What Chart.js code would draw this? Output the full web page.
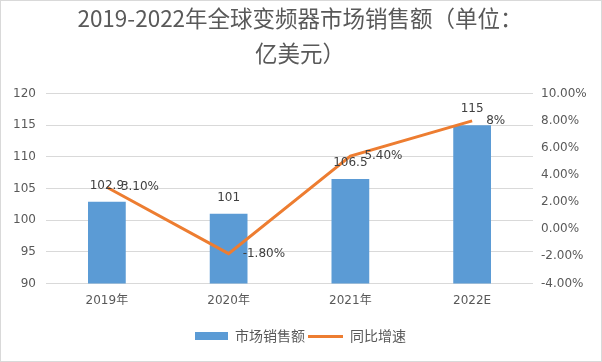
<!DOCTYPE html>
<html>
<head>
<meta charset="utf-8">
<script src="https://cdn.jsdelivr.net/npm/chart.js@4"></script>
<style>
  body { margin: 0; background: #fff; }
  .wrap { width: 600px; height: 360px; border: 1px solid #d9d9d9; }
</style>
</head>
<body>
<div class="wrap"><canvas id="chart" width="600" height="360"></canvas></div>
<script>
const categories = ["2019年", "2020年", "2021年", "2022E"];
const salesValues = [102.9, 101, 106.5, 115];
const growthValues = [3.1, -1.8, 5.4, 8];
const growthLabels = ["3.10%", "-1.80%", "5.40%", "8%"];
const leftTicks = [90, 95, 100, 105, 110, 115, 120];
const rightTicks = [-4, -2, 0, 2, 4, 6, 8, 10];

const BLUE = "#5B9BD5";
const ORANGE = "#ED7D31";
const TEXT = "#595959";
const CJK = "'Noto Sans CJK SC', 'Noto Sans', sans-serif";
const NUM = "'DejaVu Sans', 'Noto Sans CJK SC', sans-serif";

// legend swatches
function swatch(w, h, color) {
  const c = document.createElement("canvas");
  c.width = w; c.height = h;
  const g = c.getContext("2d");
  g.fillStyle = color;
  g.fillRect(0, 0, w, h);
  return c;
}
const barSwatch = swatch(33, 8, BLUE);
const lineSwatch = swatch(35, 3, ORANGE);

// value labels drawn next to the marks
const valueLabels = {
  id: "valueLabels",
  afterDatasetsDraw(chart) {
    const ctx = chart.ctx;
    ctx.save();
    ctx.font = "12px " + NUM;
    ctx.fillStyle = "#404040";
    ctx.textBaseline = "middle";
    chart.getDatasetMeta(1).data.forEach((bar, i) => {
      ctx.textAlign = "center";
      ctx.fillText(String(salesValues[i]), bar.x, bar.y - 16);
    });
    chart.getDatasetMeta(0).data.forEach((pt, i) => {
      ctx.textAlign = "left";
      ctx.fillText(growthLabels[i], pt.x + 14, pt.y);
    });
    ctx.restore();
  }
};

new Chart(document.getElementById("chart"), {
  data: {
    labels: categories,
    datasets: [
      {
        type: "line",
        label: "同比增速",
        data: growthValues,
        yAxisID: "y1",
        borderColor: ORANGE,
        backgroundColor: ORANGE,
        borderWidth: 3,
        pointRadius: 0,
        tension: 0,
        order: 0
      },
      {
        type: "bar",
        label: "市场销售额",
        data: salesValues,
        yAxisID: "y",
        backgroundColor: BLUE,
        categoryPercentage: 1,
        barPercentage: 0.31,
        order: 1
      }
    ]
  },
  options: {
    responsive: false,
    animation: false,
    layout: { padding: { left: 6, right: 8, top: 0, bottom: 8 } },
    plugins: {
      title: {
        display: true,
        text: ["2019-2022年全球变频器市场销售额（单位：", "亿美元）"],
        color: TEXT,
        font: { family: CJK, size: 22.5, weight: "normal", lineHeight: 1.55 },
        padding: { top: 0, bottom: 23 }
      },
      legend: {
        position: "bottom",
        title: { display: true, text: "", font: { size: 1 }, padding: { top: 14, bottom: 0 } },
        labels: {
          color: TEXT,
          font: { family: CJK, size: 14 },
          usePointStyle: true,
          pointStyleWidth: 34,
          boxHeight: 8,
          padding: 4,
          generateLabels(chart) {
            return [
              { text: "市场销售额", pointStyle: barSwatch, fontColor: TEXT, datasetIndex: 1, lineWidth: 0, strokeStyle: "transparent" },
              { text: "同比增速", pointStyle: lineSwatch, fontColor: TEXT, datasetIndex: 0, lineWidth: 0, strokeStyle: "transparent" }
            ];
          }
        }
      },
      tooltip: { enabled: false }
    },
    scales: {
      x: {
        grid: { display: false },
        border: { display: false },
        ticks: { color: TEXT, font: { family: NUM, size: 12 }, padding: 2 }
      },
      y: {
        position: "left",
        min: 90,
        max: 120,
        afterBuildTicks(axis) { axis.ticks = leftTicks.map(v => ({ value: v })); },
        afterFit(axis) { axis.width = 39; },
        grid: { color: "#d9d9d9", drawTicks: false },
        border: { display: false },
        ticks: { color: TEXT, font: { family: NUM, size: 12 }, padding: 10 }
      },
      y1: {
        position: "right",
        min: -4,
        max: 10,
        afterBuildTicks(axis) { axis.ticks = rightTicks.map(v => ({ value: v })); },
        afterFit(axis) { axis.width = 60; },
        grid: { display: false, drawTicks: false },
        border: { display: false },
        ticks: {
          color: TEXT,
          font: { family: NUM, size: 12 },
          padding: 8,
          callback: v => v.toFixed(2) + "%"
        }
      }
    }
  },
  plugins: [valueLabels]
});
</script>
</body>
</html>
